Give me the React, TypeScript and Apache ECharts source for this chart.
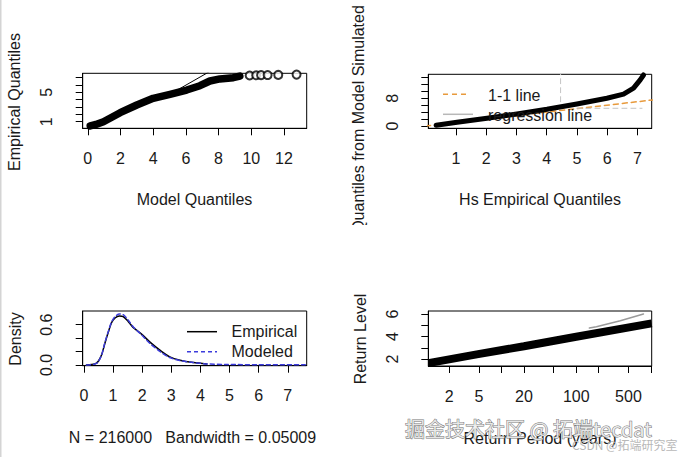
import React, { useEffect, useRef } from "react";
import * as echarts from "echarts";

// ---------- Panel 1: QQ plot (Model vs Empirical quantiles) ----------
const qqModelX = [0.15, 0.5, 0.96, 1.98, 3.0, 4.0, 5.03, 6.05, 6.86, 7.47, 8.08, 8.9, 9.3];
const qqEmpY = [0.42, 0.62, 1.0, 2.23, 3.28, 4.19, 4.74, 5.32, 5.91, 6.55, 6.83, 7.0, 7.23];
const qqTailX = [9.9, 10.3, 10.6, 11.0, 11.65, 12.77];
const qqTailY = [7.3, 7.33, 7.35, 7.36, 7.38, 7.42];
const qqRefX = [4.6, 7.5];
const qqRefY = [4.2, 7.9];
const p1XTicks = [0, 2, 4, 6, 8, 10, 12];
const p1YTicks = [1, 2, 3, 4, 5, 6, 7];
const p1YLabels = [1, 5];

// ---------- Panel 2: Hs empirical vs simulated quantiles ----------
const hsEmpX = [0.35, 1.04, 2.03, 3.02, 4.01, 5.0, 5.99, 6.54, 6.87, 7.09, 7.2];
const hsSimY = [0.2, 1.07, 2.2, 3.47, 4.8, 6.36, 8.0, 9.2, 10.9, 13.3, 14.7];
const oneOneX = [0, 7.6];
const oneOneY = [0, 7.6];
const vDashX = [4.46, 4.46];
const vDashY = [7.0, 15.5];
const hDashX = [5.0, 7.15];
const hDashY = [5.1, 5.1];
const p2XTicks = [1, 2, 3, 4, 5, 6, 7];
const p2YTicks = [0, 2, 4, 6, 8, 10, 12, 14];
const p2YLabels = [0, 8];

// ---------- Panel 3: density ----------
const empDensX = [0.09, 0.38, 0.49, 0.61, 0.72, 0.84, 0.95, 1.07, 1.22, 1.35, 1.52, 1.69, 1.98, 2.27, 2.61, 2.95, 3.3, 3.76, 4.22];
const empDensY = [0, 0.015, 0.05, 0.15, 0.32, 0.49, 0.63, 0.7, 0.73, 0.72, 0.65, 0.56, 0.46, 0.34, 0.22, 0.12, 0.07, 0.035, 0.015];
const modDensX = [0.09, 0.38, 0.49, 0.61, 0.72, 0.84, 0.95, 1.07, 1.22, 1.35, 1.52, 1.69, 1.98, 2.27, 2.61, 2.95, 3.3, 3.76, 4.22, 4.9, 6.0, 7.6];
const modDensY = [0, 0.012, 0.045, 0.15, 0.33, 0.5, 0.64, 0.72, 0.76, 0.75, 0.67, 0.57, 0.45, 0.32, 0.2, 0.11, 0.065, 0.035, 0.015, 0.006, 0.003, 0.001];
const p3XTicks = [0, 1, 2, 3, 4, 5, 6, 7];
const p3YTicks = [0, 0.2, 0.4, 0.6];
const p3YLabels = [0, 0.6];

// ---------- Panel 4: return level ----------
const returnPeriod = [1.05, 4.66, 20, 100, 1020];
const returnLevel = [1.64, 2.41, 3.14, 3.98, 5.17];
const ciPeriod = [150, 186, 389, 794];
const ciLevel = [4.75, 4.87, 5.4, 6.0];
const p4XTicks = [2, 5, 10, 20, 50, 100, 200, 500, 1000];
const p4XLabels = [2, 5, 20, 100, 500];
const p4YTicks = [2, 3, 4, 5, 6];
const p4YLabels = [2, 4, 6];

const FONT = '"Liberation Sans", Arial, sans-serif';
const TXT = "#1a1a1a";

const zip = (a: number[], b: number[]) => a.map((v, i) => [v, b[i]]);
const lg = (v: number) => Math.log10(v);

export default function App() {
  const ref = useRef<HTMLDivElement>(null);
  useEffect(() => {
    if (!ref.current) return;
    const chart = echarts.init(ref.current, undefined, { renderer: "svg" });

    const grids = [
      { left: 82.7, top: 73.3, width: 224, height: 55 },
      { left: 428.3, top: 74.3, width: 223.4, height: 54 },
      { left: 82.7, top: 311, width: 224, height: 54.7 },
      { left: 428.3, top: 311, width: 223.4, height: 55 },
    ];

    const xAx = (gi: number, min: number, max: number, ticks: number[], labels: number[], fmt?: (v: number) => string) => ({
      type: "value",
      gridIndex: gi,
      min,
      max,
      axisLine: { show: true, onZero: false, lineStyle: { color: "#000", width: 1 } },
      axisTick: { show: true, customValues: ticks, length: 7, lineStyle: { color: "#000", width: 1 } },
      axisLabel: {
        customValues: labels,
        formatter: fmt || ((v: number) => String(v)),
        margin: 22,
        fontSize: 16,
        fontFamily: FONT,
        color: TXT,
      },
      splitLine: { show: false },
    });
    const yAx = (gi: number, min: number, max: number, ticks: number[], labels: number[], fmt?: (v: number) => string) => ({
      type: "value",
      gridIndex: gi,
      min,
      max,
      axisLine: { show: true, onZero: false, lineStyle: { color: "#000", width: 1 } },
      axisTick: { show: true, customValues: ticks, length: 7, lineStyle: { color: "#000", width: 1 } },
      axisLabel: {
        customValues: labels,
        formatter: fmt || ((v: number) => String(v)),
        rotate: 90,
        margin: 28,
        fontSize: 16,
        fontFamily: FONT,
        color: TXT,
      },
      splitLine: { show: false },
    });

    const line = (gi: number, data: number[][], color: string, width: number, type: any = "solid", extra: any = {}) => ({
      type: "line",
      xAxisIndex: gi,
      yAxisIndex: gi,
      data,
      symbol: "none",
      clip: true,
      silent: true,
      lineStyle: { color, width, type, cap: "round", join: "round" },
      ...extra,
    });

    const title = (text: string, x: number, y: number, rot = 0, size = 16) => ({
      type: "text",
      x,
      y,
      rotation: rot,
      z: 100,
      style: { text, align: "center", verticalAlign: "middle", font: `${size}px ${FONT}`, fill: TXT },
    });

    const legLine = (x1: number, x2: number, y: number, color: string, dash: any) => ({
      type: "line",
      z: 100,
      shape: { x1, y1: y, x2, y2: y },
      style: { stroke: color, lineWidth: 1.5, lineDash: dash },
    });
    const legText = (text: string, x: number, y: number) => ({
      type: "text",
      x,
      y,
      z: 100,
      style: { text, align: "left", verticalAlign: "middle", font: `16px ${FONT}`, fill: TXT },
    });

    const option: any = {
      animation: false,
      backgroundColor: "#fff",
      textStyle: { fontFamily: FONT },
      grid: grids.map((g) => ({ ...g, show: true, borderColor: "#000", borderWidth: 1, backgroundColor: "transparent", containLabel: false })),
      xAxis: [
        xAx(0, -0.31, 13.39, p1XTicks, p1XTicks),
        xAx(1, 0.09, 7.47, p2XTicks, p2XTicks),
        xAx(2, -0.04, 7.65, p3XTicks, p3XTicks),
        xAx(3, 0.02, 3.01, p4XTicks.map(lg), p4XLabels.map(lg), (v: number) => String(Math.round(Math.pow(10, v)))),
      ],
      yAxis: [
        yAx(0, 0.1, 7.6, p1YTicks, p1YLabels),
        yAx(1, -0.67, 14.9, p2YTicks, p2YLabels),
        yAx(2, -0.012, 0.805, p3YTicks, p3YLabels, (v: number) => v.toFixed(1)),
        yAx(3, 1.38, 6.27, p4YTicks, p4YLabels),
      ],
      series: [
        // panel 1
        line(0, zip(qqRefX, qqRefY), "#000", 1),
        line(0, zip(qqModelX, qqEmpY), "#000", 7.5),
        {
          type: "scatter",
          xAxisIndex: 0,
          yAxisIndex: 0,
          data: zip(qqTailX, qqTailY),
          symbol: "emptyCircle",
          symbolSize: 8,
          clip: false,
          silent: true,
          itemStyle: { color: "#000", borderColor: "#000", borderWidth: 1 },
        },
        // panel 2
        line(1, zip(oneOneX, oneOneY), "#e89a3c", 1.5, [5, 4]),
        line(1, zip(vDashX, vDashY), "#c4c4c4", 1, [5, 4]),
        line(1, zip(hDashX, hDashY), "#c4c4c4", 1, [5, 4]),
        line(1, zip(hsEmpX, hsSimY), "#000", 5),
        // panel 3
        line(2, zip(empDensX, empDensY), "#000", 1.5, "solid", { smooth: 0.3 }),
        line(2, zip(modDensX, modDensY), "#3c3cdc", 1.5, [4, 3], { smooth: 0.3 }),
        // panel 4
        line(3, zip(ciPeriod.map(lg), ciLevel), "#9a9a9a", 1.5),
        line(3, zip(returnPeriod.map(lg), returnLevel), "#000", 8, "solid", { lineStyle: { color: "#000", width: 8, cap: "butt" } }),
      ],
      graphic: [
        { type: "rect", z: 100, shape: { x: 0, y: 0, width: 1.5, height: 457 }, style: { fill: "#d4d4d4" } },
        // axis titles
        title("Model Quantiles", 194.5, 199),
        title("Empirical Quantiles", 14.5, 102, Math.PI / 2),
        title("Hs Empirical Quantiles", 540, 199),
        title("Quantiles from Model Simulated", 358.5, 119, Math.PI / 2),
        { type: "rect", z: 101, shape: { x: 346, y: 225, width: 26, height: 12 }, style: { fill: "#fff" } },
        title("N = 216000   Bandwidth = 0.05009", 192.5, 437),
        title("Density", 15, 339, Math.PI / 2),
        title("Return Level", 360, 339, Math.PI / 2),
        title("Return Period (years)", 540, 438),
        // panel 2 legend
        legLine(443, 470, 94.3, "#e89a3c", [5, 4]),
        legText("1-1 line", 488, 95),
        legLine(443, 473, 114.3, "#b8b8b8", null),
        legText("regression line", 488, 115.5),
        // panel 3 legend
        legLine(187, 217, 331.7, "#000", null),
        legText("Empirical", 231.5, 331.5),
        legLine(187, 217, 351.7, "#3c3cdc", [4, 3]),
        legText("Modeled", 231.5, 351.5),
        // watermarks
        {
          type: "text",
          x: 405,
          y: 428,
          z: 110,
          style: {
            text: "掘金技术社区 @ 拓端tecdat",
            align: "left",
            verticalAlign: "middle",
            font: `20px "Noto Sans CJK SC", ${FONT}`,
            fill: "rgba(240,240,240,0.9)",
            stroke: "#777",
            lineWidth: 1,
          },
        },
        {
          type: "text",
          x: 572,
          y: 444,
          z: 110,
          style: {
            text: "CSDN @拓端研究室",
            align: "left",
            verticalAlign: "middle",
            font: `12px "Noto Sans CJK SC", ${FONT}`,
            fill: "#b8b8b8",
          },
        },
      ],
    };

    chart.setOption(option);
    return () => chart.dispose();
  }, []);

  return (
    <div
      ref={ref}
      style={{ position: "fixed", left: 0, top: 0, width: 684, height: 457, background: "#fff" }}
    />
  );
}
